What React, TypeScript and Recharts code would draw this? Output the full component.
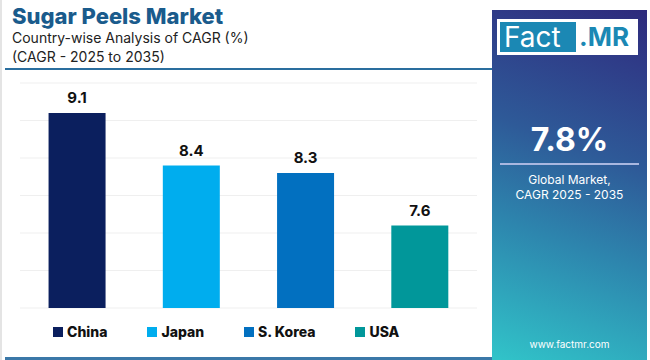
import { BarChart, Bar, Cell, XAxis, YAxis, CartesianGrid, LabelList } from "recharts";

const countries = ["China", "Japan", "S. Korea", "USA"];
const cagr = [9.1, 8.4, 8.3, 7.6];
const barColors = ["#0b1f5e", "#00adee", "#0270c0", "#01979a"];
const yTicks = [6.5, 7, 7.5, 8, 8.5, 9, 9.5];

const data = countries.map((name, i) => ({ name, value: cagr[i], color: barColors[i] }));

const FONT = "Inter, 'Noto Sans', sans-serif";

export default function App() {
  return (
    <div style={{ position: "absolute", left: 0, top: 0, width: 650, height: 360, background: "#fff", overflow: "hidden", fontFamily: FONT }}>
      <div style={{ position: "absolute", left: 0, top: 0, width: 2, height: 360, background: "#e4e4e4" }} />
      <div style={{ position: "absolute", left: 12, top: 3, fontSize: 22, fontWeight: 800, color: "#1a5b8c", lineHeight: "26px" }}>
        Sugar Peels Market
      </div>
      <div style={{ position: "absolute", left: 12, top: 28, fontSize: 14, color: "#222", lineHeight: "19px" }}>
        Country-wise Analysis of CAGR (%)
        <br />
        (CAGR - 2025 to 2035)
      </div>
      <div style={{ position: "absolute", left: 5, top: 68, width: 488, height: 2, background: "#2a6e9e" }} />
      <div style={{ position: "absolute", left: 5, top: 357, width: 492, height: 3, background: "#3b78a8" }} />

      <div style={{ position: "absolute", left: 0, top: 0 }}>
        <BarChart width={490} height={360} data={data} margin={{ top: 83, right: 13, bottom: 52, left: 20 }} barCategoryGap="25%">
          <CartesianGrid vertical={false} stroke="#efefef" />
          <XAxis dataKey="name" hide />
          <YAxis hide domain={[6.5, 9.5]} ticks={yTicks} />
          <Bar dataKey="value" isAnimationActive={false}>
            {data.map((d) => (
              <Cell key={d.name} fill={d.color} />
            ))}
            <LabelList dataKey="value" position="top" offset={10} style={{ fontSize: 15, fontWeight: 700, fill: "#111", fontFamily: FONT }} />
          </Bar>
        </BarChart>
      </div>

      <div style={{ position: "absolute", left: 0, top: 323, display: "flex", gap: 40, paddingLeft: 53 }}>
        {data.map((d) => (
          <div key={d.name} style={{ display: "flex", alignItems: "center", gap: 4 }}>
            <div style={{ width: 10, height: 10, background: d.color }} />
            <span style={{ fontSize: 14, fontWeight: 800, color: "#111", lineHeight: "18px" }}>{d.name}</span>
          </div>
        ))}
      </div>

      <div
        style={{
          position: "absolute",
          left: 492,
          top: 10,
          width: 155,
          height: 350,
          background: "linear-gradient(20deg, #31c4c9 0%, #2d86ae 35%, #2e5a98 60%, #2f3c88 85%, #2e2a7c 100%)",
        }}
      >
        <div style={{ position: "absolute", left: 5, top: 9, width: 141, height: 36, background: "#fff" }}>
          <div style={{ position: "absolute", left: 3, top: 3, width: 76, height: 30, background: "#1b88b4", color: "#fff", fontSize: 28, lineHeight: "30px", paddingLeft: 4, boxSizing: "border-box" }}>
            Fact
          </div>
          <div style={{ position: "absolute", left: 82, top: 3, height: 30, color: "#1b88b4", fontSize: 26, fontWeight: 700, lineHeight: "30px" }}>
            .MR
          </div>
        </div>
        <div style={{ position: "absolute", left: 0, top: 110, width: 155, textAlign: "center", color: "#fff", fontSize: 32, fontWeight: 700, lineHeight: "40px" }}>
          7.8%
        </div>
        <div style={{ position: "absolute", left: 8, top: 153, width: 139, height: 2, background: "#a9b7e0" }} />
        <div style={{ position: "absolute", left: 0, top: 162, width: 155, textAlign: "center", color: "#fff", fontSize: 12, lineHeight: "15px" }}>
          Global Market,
          <br />
          CAGR 2025 - 2035
        </div>
        <div style={{ position: "absolute", left: 0, top: 327, width: 155, textAlign: "center", color: "#fff", fontSize: 10, lineHeight: "14px" }}>
          www.factmr.com
        </div>
      </div>
    </div>
  );
}
